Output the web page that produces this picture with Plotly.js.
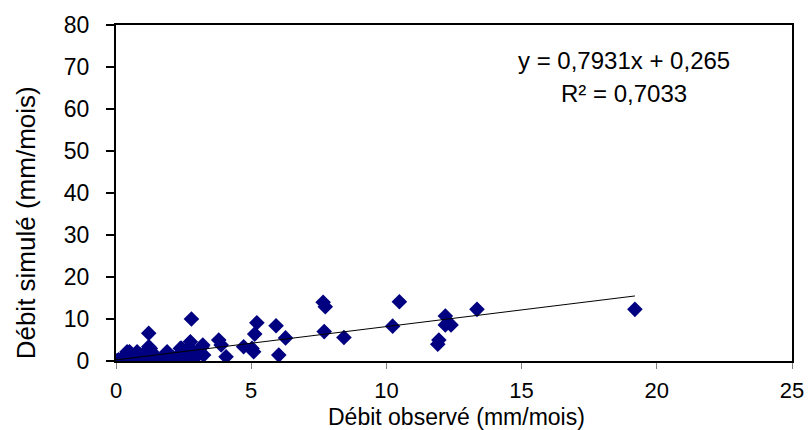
<!DOCTYPE html>
<html>
<head>
<meta charset="utf-8">
<script src="https://cdn.plot.ly/plotly-3.0.1.min.js"></script>
<style>html,body{margin:0;padding:0;background:#fff;}#chart{width:808px;height:430px;}</style>
</head>
<body>
<div id="chart"></div>
<script>
// Observed discharge (mm/month)
const observed = [
  0.00,0.05,0.10,0.15,0.20,0.25,0.30,0.35,0.40,0.41,0.45,0.50,0.55,0.60,0.70,0.78,0.85,0.90,1.00,1.05,
  1.10,1.20,1.21,1.21,1.25,1.27,1.30,1.40,1.50,1.62,1.70,1.89,1.95,2.10,2.26,2.38,2.42,2.42,2.50,2.60,
  2.75,2.79,2.87,2.90,3.00,3.18,3.21,3.24,3.80,3.89,4.07,4.72,5.03,5.09,5.13,5.21,5.92,6.02,6.27,7.66,
  7.74,7.70,8.43,10.23,10.48,12.18,12.18,12.39,11.94,11.90,13.35,19.19
];
// Simulated discharge (mm/month)
const simulated = [
  0.0,0.1,0.3,0.05,0.5,0.2,0.8,0.1,1.2,2.2,0.4,2.2,0.6,0.2,1.0,2.2,0.5,1.5,0.3,1.8,
  0.8,2.2,3.4,6.6,0.5,3.0,1.2,0.2,1.0,0.0,0.6,2.2,1.5,0.8,1.0,3.0,0.2,3.0,1.8,2.5,
  4.6,10.0,0.6,2.0,1.2,3.4,3.8,1.4,5.0,3.8,1.0,3.4,3.0,2.2,6.4,9.1,8.4,1.4,5.5,14.0,
  12.9,7.0,5.6,8.3,14.1,10.7,8.6,8.6,5.0,4.0,12.3,12.3
];
// Linear trend parameters
const slope = [0.7931];
const intercept = [0.265];
const r2 = [0.7033];
const xTicks = [0, 5, 10, 15, 20, 25];
const yTicks = [0, 10, 20, 30, 40, 50, 60, 70, 80];
const xTitle = 'Débit observé (mm/mois)';
const yTitle = 'Débit simulé (mm/mois)';

const fmt = (v) => String(v).replace('.', ',');
const xMin = Math.min(...observed), xMax = Math.max(...observed);
const trendX = [xMin, xMax];
const trendY = trendX.map(x => slope[0] * x + intercept[0]);

const font = 'Liberation Sans, Arial, sans-serif';

const traces = [
  {
    x: observed, y: simulated, type: 'scatter', mode: 'markers',
    marker: {symbol: 'diamond', size: 12, color: '#000080', line: {width: 0}},
    hoverinfo: 'x+y', showlegend: false
  },
  {
    x: trendX, y: trendY, type: 'scatter', mode: 'lines',
    line: {color: '#000000', width: 1}, hoverinfo: 'skip', showlegend: false
  }
];

const layout = {
  width: 808, height: 430,
  margin: {l: 116, r: 16, t: 25, b: 69},
  paper_bgcolor: '#ffffff', plot_bgcolor: '#ffffff',
  font: {family: font, size: 23, color: '#000000'},
  showlegend: false,
  xaxis: {
    range: [0, 25], tickvals: xTicks, ticktext: xTicks.map(String),
    showgrid: false, zeroline: false,
    showline: true, linecolor: '#000000', linewidth: 2, mirror: true,
    ticks: 'outside', ticklen: 6, tickwidth: 1, tickcolor: '#808080',
    ticklabelstandoff: 3,
    tickfont: {family: font, size: 22, color: '#000000'},
    title: {text: ''}
  },
  yaxis: {
    range: [0, 80], tickvals: yTicks, ticktext: yTicks.map(String),
    showgrid: false, zeroline: false,
    showline: true, linecolor: '#000000', linewidth: 2, mirror: true,
    ticks: 'outside', ticklen: 8, tickwidth: 1.5, tickcolor: '#000000',
    ticklabelstandoff: 12,
    tickfont: {family: font, size: 23, color: '#000000'},
    title: {text: ''}
  },
  annotations: [
    {
      xref: 'paper', yref: 'paper', x: -0.133, y: 0.41,
      xanchor: 'center', yanchor: 'middle', textangle: -90, showarrow: false,
      text: yTitle, font: {family: font, size: 26, color: '#000000'}
    },
    {
      xref: 'paper', yref: 'paper', x: 0.504, y: -0.1667,
      xanchor: 'center', yanchor: 'middle', showarrow: false,
      text: xTitle, font: {family: font, size: 23, color: '#000000'}
    },
    {
      xref: 'x', yref: 'y', x: 18.8, y: 71.5, xanchor: 'center', yanchor: 'middle', showarrow: false,
      text: 'y = ' + fmt(slope[0]) + 'x + ' + fmt(intercept[0]),
      font: {family: font, size: 24, color: '#000000'}
    },
    {
      xref: 'x', yref: 'y', x: 18.8, y: 63.8, xanchor: 'center', yanchor: 'middle', showarrow: false,
      text: 'R² = ' + fmt(r2[0]),
      font: {family: font, size: 24, color: '#000000'}
    }
  ]
};

Plotly.newPlot('chart', traces, layout, {staticPlot: true, displayModeBar: false});
</script>
</body>
</html>
